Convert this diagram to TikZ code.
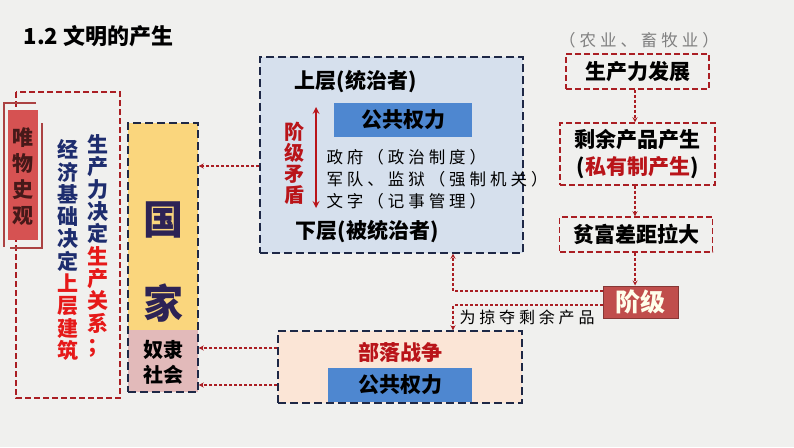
\documentclass[tikz,border=0pt]{standalone}
\usepackage{fontspec}
\usepackage{xcolor}
\usepackage{tikz}
\usetikzlibrary{arrows}
\newfontfamily\cjk{Noto Sans CJK SC}
\newfontfamily\cjkwide{Noto Sans CJK SC}[LetterSpace=24]

\definecolor{paper}{RGB}{240,240,238}
\definecolor{linkred}{RGB}{170,30,35}
\definecolor{navyline}{RGB}{30,40,70}
\definecolor{stampred}{RGB}{214,82,82}
\definecolor{stampink}{RGB}{70,25,25}
\definecolor{stateyellow}{RGB}{250,214,125}
\definecolor{slavepink}{RGB}{226,186,186}
\definecolor{navytext}{RGB}{30,45,110}
\definecolor{brightred}{RGB}{230,25,25}
\definecolor{deepred}{RGB}{185,20,25}
\definecolor{powerblue}{RGB}{78,135,208}
\definecolor{paleblue}{RGB}{214,224,237}
\definecolor{peach}{RGB}{251,229,214}
\definecolor{classred}{RGB}{192,78,76}
\definecolor{statetext}{RGB}{45,35,85}

\tikzset{
  link/.style={color=linkred, line width=1.2, dash pattern=on 3pt off 2pt, ->, >=stealth},
  redframe/.style={draw=linkred, line width=1.4, dash pattern=on 6pt off 3pt},
  navyframe/.style={draw=navyline, line width=1.4, dash pattern=on 8pt off 4pt},
  bigtext/.style={font=\cjk\bfseries\fontsize{21}{23}\selectfont},
  stack/.style={align=center, inner sep=0, font=\cjk\bfseries\fontsize{21}{22.3}\selectfont},
  powerbar/.style={fill=powerblue, inner sep=0, bigtext},
}

\begin{document}
\begin{tikzpicture}[x=1pt, y=-1pt, line width=1]
  \fill[paper] (0,0) rectangle (794,447);
  \useasboundingbox (0,0) rectangle (794,447);

  %title
  \node[anchor=west, font=\cjk\bfseries\fontsize{22}{24}\selectfont] (title) at (20,36) {1.2 文明的产生};

  %left: historical materialism
  \draw[redframe] (16,92) rectangle (120,398);
  \node[fill=stampred, minimum width=30, minimum height=130, inner sep=0] (stamp) at (23,175) {};
  \draw[stampred!80!black, line width=1.1] (36,103) -- (4,103) -- (4,247);
  \draw[stampred!80!black, line width=1.1] (42,123) -- (42,248) -- (10,248);
  \node[stack, color=stampink, font=\cjk\bfseries\fontsize{21}{26}\selectfont] (stampword) at (23,177) {唯\\物\\史\\观};
  \node[stack, color=navytext] (colone) at (98,246)
    {生\\产\\力\\决\\定\\\textcolor{brightred}{生}\\\textcolor{brightred}{产}\\\textcolor{brightred}{关}\\\textcolor{brightred}{系}\\\textcolor{brightred}{；}};
  \node[stack, color=navytext] (coltwo) at (68,250)
    {经\\济\\基\\础\\决\\定\\\textcolor{brightred}{上}\\\textcolor{brightred}{层}\\\textcolor{brightred}{建}\\\textcolor{brightred}{筑}};

  %state
  \fill[stateyellow] (128,123) rectangle (198,330);
  \fill[slavepink] (128,330) rectangle (198,392);
  \node[navyframe, minimum width=70, minimum height=269, inner sep=0] (state) at (163,257.5) {};
  \node[color=statetext, font=\cjk\bfseries\fontsize{40}{42}\selectfont, inner sep=0] (guo) at (163,220) {国};
  \node[color=statetext, font=\cjk\bfseries\fontsize{40}{42}\selectfont, inner sep=0] (jia) at (163,303) {家};
  \node[align=center, inner sep=0, font=\cjk\bfseries\fontsize{20}{25}\selectfont] (slave) at (163,362) {奴隶\\社会};

  %upper structure
  \node[navyframe, fill=paleblue, minimum width=263, minimum height=196, inner sep=0] (upper) at (391.5,155) {};
  \node[bigtext, anchor=west] (ruler) at (291,82) {上层(统治者)};
  \node[powerbar, minimum width=138, minimum height=34] (power) at (403,120) {公共权力};
  \coordinate (top) at (316,107);
  \coordinate (bot) at (316,208);
  \draw[<->, >=stealth, color=deepred, line width=2] (top) -- (bot);
  \node[stack, color=deepred, font=\cjk\bfseries\fontsize{20}{21}\selectfont] (conflict) at (294,163) {阶\\级\\矛\\盾};
  \node[anchor=west, align=left, inner sep=0, font=\cjkwide\fontsize{16.5}{22}\selectfont] (organs) at (326,179)
    {政府（政治制度）\\军队、监狱（强制机关）\\文字（记事管理）};
  \node[bigtext, anchor=west] (ruled) at (292,232) {下层(被统治者)};

  %tribal war
  \node[navyframe, fill=peach, minimum width=244, minimum height=72, inner sep=0] (war) at (400,367) {};
  \node[bigtext, color=deepred] (wartitle) at (400,352) {部落战争};
  \node[powerbar, minimum width=144, minimum height=34] (warpower) at (400,385) {公共权力};

  %right: chain of causes
  \node[color=gray, font=\cjkwide\fontsize{16.5}{18}\selectfont] (farm) at (639,40) {（农业、畜牧业）};
  \node[redframe, bigtext, minimum width=143, minimum height=35, inner sep=0] (prod) at (637.5,71.5) {生产力发展};
  \node[redframe, bigtext, align=center, minimum width=155, minimum height=62, inner sep=0,
        font=\cjk\bfseries\fontsize{21}{27}\selectfont] (surplus) at (637.5,154)
    {剩余产品产生\\(\textcolor{deepred}{私有制产生})};
  \node[redframe, bigtext, minimum width=153, minimum height=35, inner sep=0] (gap) at (636,234.5) {贫富差距拉大};
  \node[fill=classred, draw=classred!70!black, line width=1, minimum width=75, minimum height=32, inner sep=0,
        text=white!92!yellow, font=\cjk\bfseries\fontsize{25}{27}\selectfont] (class) at (640.5,302) {阶级};

  \draw[link] (prod.south -| 635,0) -- (surplus.north -| 635,0);
  \draw[link] (surplus.south -| 635,0) -- (gap.north -| 635,0);
  \draw[link] (gap.south -| 635,0) -- (class.north -| 635,0);
  \draw[link] (class.west |- 0,291) -| (453,0 |- upper.south);
  \draw[link] (class.west |- 0,305) -| (453,0 |- war.north);
  \node[anchor=west, inner sep=0, font=\cjkwide\fontsize{16}{18}\selectfont] (loot) at (459,317) {为掠夺剩余产品};

  \draw[link] (upper.west |- 0,166) -- (state.east |- 0,166);
  \draw[link] (war.west |- 0,348) -- (state.east |- 0,348);
  \draw[link] (war.west |- 0,385) -- (state.east |- 0,385);
\end{tikzpicture}
\end{document}
